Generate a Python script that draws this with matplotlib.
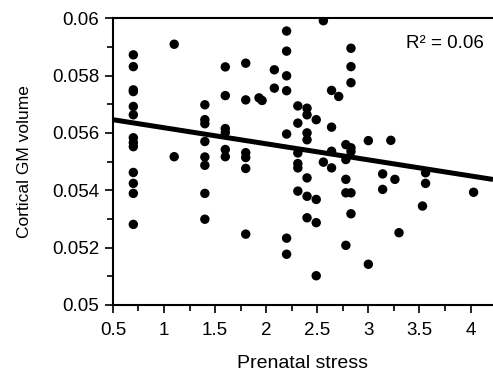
import numpy as np
import matplotlib
matplotlib.use("Agg")
import matplotlib.pyplot as plt
from matplotlib.ticker import MultipleLocator, FuncFormatter

plt.rcParams["font.family"] = ["Liberation Sans", "DejaVu Sans"]

# --- data ---
stress = [
    0.7, 0.7, 0.7, 0.7, 0.7, 0.7, 0.7, 0.7, 0.7, 0.7, 0.7, 0.7, 0.7,
    1.1, 1.1,
    1.4, 1.4, 1.4, 1.4, 1.4, 1.4, 1.4, 1.4,
    1.6, 1.6, 1.6, 1.6, 1.6, 1.6,
    1.8, 1.8, 1.8, 1.8, 1.8, 1.8,
    1.93, 1.96,
    2.08, 2.08,
    2.2, 2.2, 2.2, 2.2, 2.2, 2.2, 2.2,
    2.31, 2.31, 2.31, 2.31, 2.31, 2.31,
    2.4, 2.4, 2.4, 2.4, 2.4, 2.4, 2.4,
    2.49, 2.49, 2.49, 2.49,
    2.56, 2.56,
    2.64, 2.64, 2.64, 2.64,
    2.71,
    2.78, 2.78, 2.78, 2.78, 2.78,
    2.83, 2.83, 2.83, 2.83, 2.83, 2.83, 2.83,
    3.0, 3.0,
    3.14, 3.14,
    3.22, 3.26, 3.30,
    3.53, 3.56, 3.56,
    4.03,
]
gm_volume = [
    0.05872, 0.05831, 0.0575, 0.05744, 0.05692, 0.05663, 0.05583, 0.05566,
    0.05552, 0.05462, 0.05424, 0.05389, 0.05281,
    0.05909, 0.05517,
    0.05698, 0.05646, 0.05632, 0.0557, 0.05516, 0.05487, 0.05389, 0.05299,
    0.0583, 0.0573, 0.05615, 0.05601, 0.05542, 0.05517,
    0.05843, 0.05715, 0.05531, 0.05514, 0.05476, 0.05247,
    0.05722, 0.05713,
    0.0582, 0.05756,
    0.05955, 0.05885, 0.05799, 0.05747, 0.05596, 0.05233, 0.05177,
    0.05694, 0.05634, 0.0553, 0.05493, 0.05478, 0.05397,
    0.05686, 0.05663, 0.056, 0.05576, 0.05443, 0.05379, 0.05304,
    0.05646, 0.05368, 0.05287, 0.05102,
    0.05991, 0.05498,
    0.05748, 0.0562, 0.05536, 0.05478,
    0.05727,
    0.05559, 0.05507, 0.05438, 0.05391, 0.05208,
    0.05895, 0.05831, 0.05775, 0.05548, 0.05535, 0.05391, 0.05318,
    0.05573, 0.05142,
    0.05457, 0.05403,
    0.05574, 0.05438, 0.05252,
    0.05345, 0.05461, 0.05424,
    0.05393,
]

# regression line as drawn in the figure
fit_slope = -0.00056
fit_intercept = 0.05674
r2_text = "R\u00b2 = 0.06"

# --- plot ---
fig = plt.figure(figsize=(4.93, 3.74), dpi=100)
ax = fig.add_axes([0.229, 0.1845, 0.771, 0.767])

ax.scatter(stress, gm_volume, s=46, color="black", edgecolors="none", zorder=3)

xs = np.array([0.5, 4.22])
ax.plot(xs, fit_intercept + fit_slope * xs, color="black", lw=3.6, zorder=4,
        solid_capstyle="butt")

ax.set_xlim(0.5, 4.22)
ax.set_ylim(0.05, 0.06)

ax.xaxis.set_major_locator(MultipleLocator(0.5))
ax.xaxis.set_minor_locator(MultipleLocator(0.25))
ax.yaxis.set_major_locator(MultipleLocator(0.002))
ax.yaxis.set_minor_locator(MultipleLocator(0.001))
ax.xaxis.set_major_formatter(FuncFormatter(lambda v, p: f"{v:g}"))
ax.yaxis.set_major_formatter(FuncFormatter(lambda v, p: f"{round(v, 4):g}"))

ax.tick_params(which="major", direction="out", length=6, width=1.2,
               labelsize=13.5, pad=4)
ax.tick_params(axis="x", which="major", pad=6)
ax.tick_params(which="minor", direction="out", length=4, width=1.2)

ax.spines["right"].set_visible(False)
for s in ["left", "bottom", "top"]:
    ax.spines[s].set_linewidth(1.5)

ax.set_xlabel("Prenatal stress", fontsize=14, labelpad=12)
ax.set_ylabel("Cortical GM volume", fontsize=12.5, labelpad=14)

ax.text(0.975, 0.913, r2_text, transform=ax.transAxes, ha="right",
        va="center", fontsize=13.5)

fig.savefig("out.png", dpi=100)
